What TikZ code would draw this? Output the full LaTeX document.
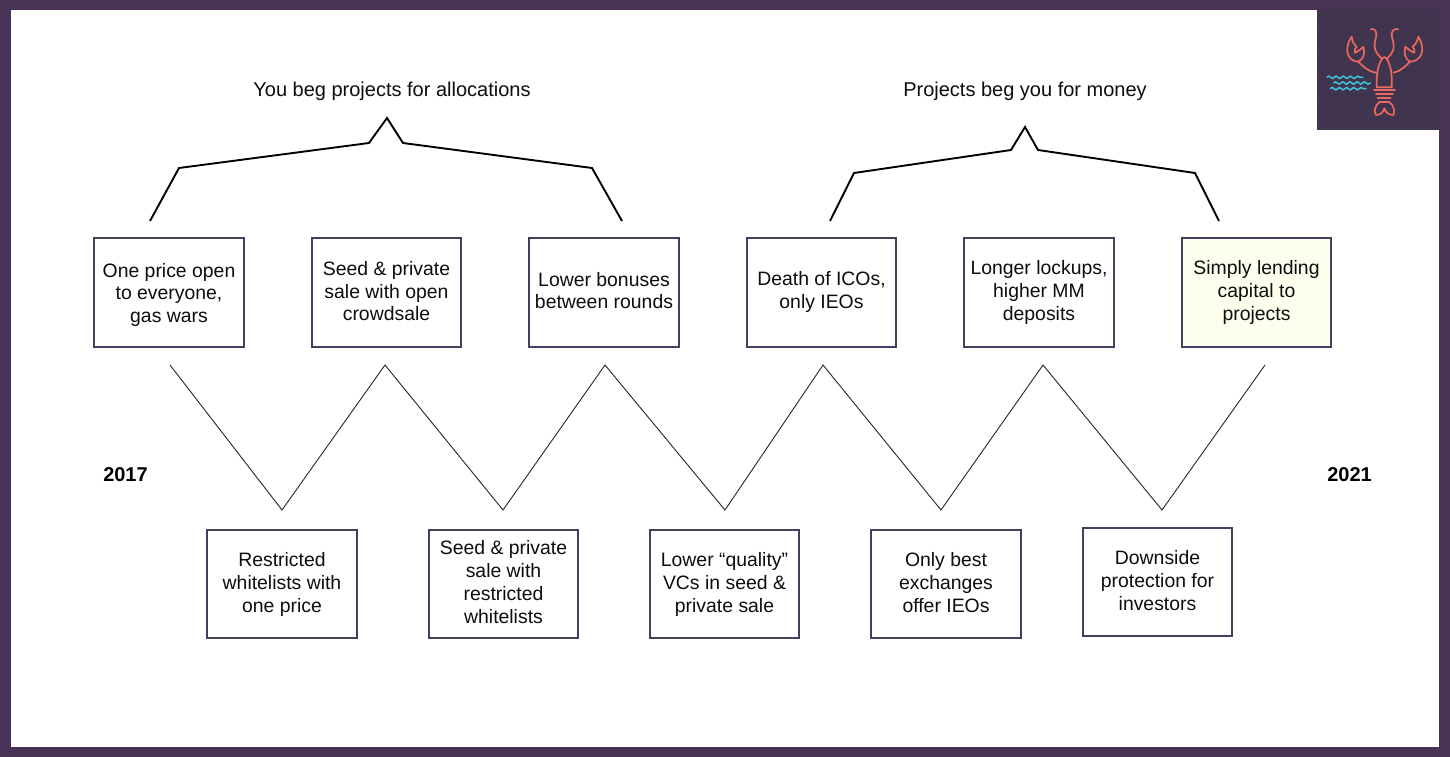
\documentclass[tikz,border=0pt]{standalone}
\usepackage{fontspec}
\setmainfont{Liberation Sans}
\usetikzlibrary{decorations.pathmorphing}
\definecolor{frame}{HTML}{483255}
\definecolor{boxline}{HTML}{483D5E}
\definecolor{logobg}{HTML}{41344F}
\definecolor{brick}{HTML}{372C45}
\definecolor{neon}{HTML}{E9695F}
\definecolor{wave}{HTML}{3EC4DC}
\definecolor{paleyellow}{HTML}{FBFFEC}
\newcommand\st{\rule{0pt}{15pt}}
\newcommand\en[1]{\rule[-#1pt]{0pt}{#1pt}}
\tikzset{
  txt/.style={font=\fontsize{19.4}{22.7}\selectfont,align=center,text=black!95},
  item/.style={txt,draw=boxline,line width=1.9pt,fill=white,minimum width=149.5pt,minimum height=108.5pt,inner sep=0pt},
  heading/.style={txt,font=\fontsize{20}{22.7}\selectfont,inner sep=0pt},
  year/.style={font=\fontsize{20}{22.7}\selectfont\bfseries,inner sep=0pt},
  zig/.style={draw=black!85,line width=0.9pt,line join=miter},
  brace/.style={draw=black,line width=1.9pt,line join=miter},
  neonline/.style={draw=neon,line width=1.7pt,line cap=round,line join=round},
  waveline/.style={draw=wave,line width=1.5pt,decorate,decoration={snake,amplitude=1.2pt,segment length=7.2pt}}
}
\begin{document}
\begin{tikzpicture}[x=1pt,y=-1pt]
\useasboundingbox (0,0) rectangle (1450,757);
\fill[frame] (0,0) rectangle (1450,757);
\fill[white] (11,10) rectangle (1439,747);
% logo
\begin{scope}
\clip (1317,10) rectangle (1439,130);
\fill[logobg] (1317,10) rectangle (1439,130);
\foreach \yy in {22,34,46,58,70,82,94,106,118}
  \draw[brick,line width=0.5pt,opacity=.35] (1317,\yy) -- (1439,\yy);
\end{scope}
\begin{scope}[shift={(1300,0)},x=0.33333pt,y=-0.33333pt]
 % body
 \draw[neonline] (230,262) .. controls (228,215) and (238,178) .. (253,171) .. controls (268,178) and (278,215) .. (275,262) -- cycle;
 \draw[neonline] (222,270) -- (285,270);
 \draw[neonline] (228,283) -- (279,283);
 \draw[neonline] (233,295) -- (272,295);
 % tail
 \draw[neonline] (240,305) .. controls (225,315) and (220,335) .. (228,345) .. controls (240,345) and (250,338) .. (253,325) .. controls (256,338) and (268,345) .. (280,345) .. controls (286,335) and (282,315) .. (266,305);
 \draw[neonline] (240,305) -- (266,305);
 % antennae
 \draw[neonline] (212,88) .. controls (225,84) and (232,95) .. (228,112) .. controls (222,132) and (218,150) .. (244,175);
 \draw[neonline] (294,88) .. controls (280,84) and (272,95) .. (276,112) .. controls (282,132) and (288,150) .. (262,175);
 % arms
 \draw[neonline] (228,218) .. controls (205,215) and (190,200) .. (175,185);
 \draw[neonline] (280,218) .. controls (300,215) and (315,200) .. (330,185);
 % claws
 \draw[neonline] (175,185) .. controls (145,185) and (128,150) .. (155,110) .. controls (156,125) and (163,135) .. (170,140) .. controls (165,145) and (163,150) .. (165,158) .. controls (175,155) and (185,145) .. (190,140) .. controls (196,160) and (190,178) .. (175,185);
 \draw[neonline] (330,185) .. controls (362,185) and (380,150) .. (355,110) .. controls (352,125) and (345,135) .. (338,140) .. controls (342,145) and (345,150) .. (343,158) .. controls (332,155) and (322,145) .. (316,140) .. controls (310,160) and (316,178) .. (330,185);
 % waves
 \draw[waveline] (80,232) -- (190,232);
 \draw[waveline] (100,249) -- (212,249);
 \draw[waveline] (90,266) -- (200,266);
\end{scope}
% headings and years
\node[heading] (hl) at (392,91) {You beg projects for allocations};
\node[heading] (hr) at (1025,91) {Projects beg you for money};
\node[year] (y17) at (125.5,474.5) {2017};
\node[year] (y21) at (1349.5,474.5) {2021};
% top row
\node[item] (t1) at (169,292.5) {\rule{0pt}{19pt}One price open\\to everyone,\\gas wars\en{3}};
\node[item] (t2) at (386.5,292.5) {\st Seed \& private\\sale with open\\crowdsale\en{4}};
\node[item] (t3) at (604,292.5) {\st Lower bonuses\\between rounds\en{5}};
\node[item] (t4) at (821.5,292.5) {\st Death of ICOs,\\only IEOs\en{6}};
\node[item] (t5) at (1039,292.5) {\st Longer lockups,\\higher MM\\deposits\en{5}};
\node[item,fill=paleyellow] (t6) at (1256.5,292.5) {\st Simply lending\\capital to\\projects\en{5}};
% bottom row
\node[item] (b1) at (282,584) {\st Restricted\\whitelists with\\one price\en{4}};
\node[item] (b2) at (503.5,584) {\st Seed \& private\\sale with\\restricted\\whitelists\en{5}};
\node[item] (b3) at (724.5,584) {\st Lower “quality”\\VCs in seed \&\\private sale\en{4}};
\node[item] (b4) at (946,584) {\st Only best\\exchanges\\offer IEOs\en{4}};
\node[item] (b5) at (1157.5,582) {\st Downside\\protection for\\investors\en{4}};
% zigzag
\coordinate (z0) at (170,365);
\coordinate (z1) at (282,510);
\coordinate (z2) at (385,365);
\coordinate (z3) at (503,510);
\coordinate (z4) at (605,365);
\coordinate (z5) at (725,510);
\coordinate (z6) at (823,365);
\coordinate (z7) at (941,510);
\coordinate (z8) at (1043,365);
\coordinate (z9) at (1162,510);
\coordinate (z10) at (1265,365);
\draw[zig] (z0)--(z1)--(z2)--(z3)--(z4)--(z5)--(z6)--(z7)--(z8)--(z9)--(z10);
% left brace
\coordinate (a0) at (150,221);
\coordinate (a1) at (179,168);
\coordinate (a2) at (369,143);
\coordinate (a3) at (387,118);
\coordinate (a4) at (403,143);
\coordinate (a5) at (592,168);
\coordinate (a6) at (622,221);
\draw[brace] (a0)--(a1)--(a2)--(a3)--(a4)--(a5)--(a6);
% right brace
\coordinate (c0) at (830,221);
\coordinate (c1) at (854,173);
\coordinate (c2) at (1011,150);
\coordinate (c3) at (1025,127);
\coordinate (c4) at (1038,150);
\coordinate (c5) at (1195,173);
\coordinate (c6) at (1219,221);
\draw[brace] (c0)--(c1)--(c2)--(c3)--(c4)--(c5)--(c6);
\end{tikzpicture}
\end{document}
